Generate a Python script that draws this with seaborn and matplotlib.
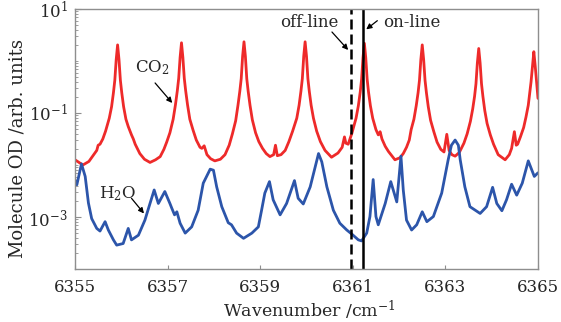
import numpy as np
import pandas as pd
import matplotlib
matplotlib.use("Agg")
import matplotlib.pyplot as plt
import matplotlib.ticker as mticker
import seaborn as sns

# Simulated molecular optical depth around 6361 cm^-1
co2_wn = [6355.00, 6355.17, 6355.30, 6355.43, 6355.47, 6355.50, 6355.54, 6355.60, 6355.66, 6355.74,
          6355.79, 6355.83, 6355.86, 6355.89, 6355.92, 6355.95, 6355.98, 6356.01, 6356.05, 6356.10,
          6356.15, 6356.22, 6356.26, 6356.30, 6356.40, 6356.50, 6356.62, 6356.74,
          6356.84, 6356.92, 6356.98, 6357.05, 6357.12, 6357.17, 6357.21, 6357.24, 6357.27, 6357.30,
          6357.33, 6357.36, 6357.39, 6357.43, 6357.48, 6357.55, 6357.62, 6357.70, 6357.74, 6357.79,
          6357.85, 6357.93, 6358.02, 6358.14, 6358.24,
          6358.33, 6358.40, 6358.47, 6358.52, 6358.56, 6358.59, 6358.62, 6358.65, 6358.68, 6358.71,
          6358.74, 6358.78, 6358.83, 6358.90, 6358.97, 6359.05, 6359.13, 6359.21, 6359.29, 6359.33,
          6359.37,
          6359.45, 6359.54, 6359.62, 6359.70, 6359.79, 6359.84, 6359.88, 6359.91, 6359.94, 6359.97,
          6360.00, 6360.03, 6360.06, 6360.10, 6360.15, 6360.22, 6360.30, 6360.40, 6360.54, 6360.68,
          6360.77, 6360.82, 6360.85, 6360.90,
          6360.98, 6361.07, 6361.12, 6361.16, 6361.19, 6361.22, 6361.25, 6361.28, 6361.31, 6361.34,
          6361.38, 6361.43, 6361.50, 6361.55, 6361.59, 6361.63, 6361.70, 6361.77, 6361.91, 6362.02,
          6362.09, 6362.16, 6362.22, 6362.26, 6362.32, 6362.37, 6362.41, 6362.44, 6362.47, 6362.50,
          6362.53, 6362.56, 6362.59, 6362.63, 6362.68, 6362.75, 6362.82, 6362.90, 6362.97, 6363.03,
          6363.08, 6363.14, 6363.21,
          6363.30, 6363.40, 6363.47, 6363.54, 6363.59, 6363.63, 6363.66, 6363.69, 6363.72, 6363.75,
          6363.78, 6363.81, 6363.85, 6363.90, 6363.97, 6364.04, 6364.14, 6364.29, 6364.38, 6364.43,
          6364.49, 6364.53, 6364.56,
          6364.62, 6364.69, 6364.74, 6364.79, 6364.82, 6364.85, 6364.88, 6364.91, 6364.94, 6364.97,
          6365.00]
co2_od = [0.0126, 0.0100, 0.0117, 0.0170, 0.0191, 0.0240, 0.0251, 0.0316, 0.0447, 0.0794,
          0.132, 0.245, 0.427, 1.07, 2.04, 1.07, 0.427, 0.245, 0.132, 0.0759,
          0.0550, 0.0380, 0.0316, 0.0251, 0.0166, 0.0129, 0.0112, 0.0126,
          0.0145, 0.0200, 0.0275, 0.0417, 0.0759, 0.145, 0.269, 0.468, 1.17, 2.24,
          1.17, 0.468, 0.269, 0.145, 0.0759, 0.0468, 0.0302, 0.0219, 0.0209, 0.0234,
          0.0158, 0.0132, 0.0120, 0.0129, 0.0158,
          0.0240, 0.0398, 0.0708, 0.141, 0.263, 0.457, 1.23, 2.34, 1.23, 0.457,
          0.263, 0.141, 0.0741, 0.0417, 0.0282, 0.0209, 0.0166, 0.0145, 0.0158, 0.0240,
          0.0151,
          0.0158, 0.0191, 0.0282, 0.0447, 0.0794, 0.141, 0.263, 0.457, 1.23, 2.34,
          1.23, 0.457, 0.263, 0.141, 0.0794, 0.0447, 0.0282, 0.0191, 0.0141, 0.0170,
          0.0219, 0.0347, 0.0263, 0.0251,
          0.0407, 0.0794, 0.138, 0.251, 0.447, 1.15, 2.19, 1.15, 0.447, 0.251,
          0.138, 0.0794, 0.0479, 0.0380, 0.0437, 0.0316, 0.0229, 0.0182, 0.0126, 0.0138,
          0.0166, 0.0219, 0.0302, 0.0479, 0.0759, 0.138, 0.245, 0.427, 1.07, 2.04,
          1.07, 0.427, 0.245, 0.132, 0.0724, 0.0437, 0.0275, 0.0200, 0.0178, 0.0389,
          0.0191, 0.0158, 0.0148,
          0.0174, 0.0263, 0.0398, 0.0692, 0.120, 0.209, 0.363, 0.912, 1.74, 0.912,
          0.363, 0.209, 0.112, 0.0631, 0.0380, 0.0251, 0.0158, 0.0126, 0.0158, 0.0209,
          0.0437, 0.0240, 0.0251,
          0.0347, 0.0525, 0.0832, 0.141, 0.240, 0.398, 0.794, 1.51, 0.794, 0.380,
          0.191]

h2o_wn = [6355.00, 6355.04, 6355.14, 6355.22, 6355.29, 6355.36, 6355.47, 6355.54, 6355.65, 6355.72,
          6355.83, 6355.90, 6356.04, 6356.15, 6356.22, 6356.37, 6356.51, 6356.62, 6356.71, 6356.80,
          6356.94, 6357.05, 6357.09, 6357.15, 6357.20, 6357.27, 6357.38, 6357.52, 6357.66, 6357.77,
          6357.92, 6357.99, 6358.06, 6358.17, 6358.31, 6358.38, 6358.49, 6358.64, 6358.82, 6358.96,
          6359.03, 6359.10, 6359.20, 6359.28, 6359.43, 6359.57, 6359.74, 6359.82, 6359.93, 6360.08,
          6360.26, 6360.33, 6360.44, 6360.58, 6360.72, 6360.87, 6360.98, 6361.12, 6361.19, 6361.30,
          6361.37, 6361.44, 6361.50, 6361.55, 6361.70, 6361.82, 6361.95, 6362.04, 6362.09, 6362.16,
          6362.27, 6362.38, 6362.50, 6362.60, 6362.74, 6362.92, 6363.06, 6363.13, 6363.21, 6363.28,
          6363.32, 6363.42, 6363.53, 6363.75, 6363.89, 6364.02, 6364.11, 6364.22, 6364.32, 6364.43,
          6364.54, 6364.66, 6364.79, 6364.92, 6365.00]
h2o_od = [0.00513, 0.00417, 0.0105, 0.00603, 0.00186, 0.000933, 0.000603, 0.000537, 0.000813, 0.000562,
          0.000363, 0.000288, 0.000309, 0.000603, 0.000363, 0.000447, 0.000871, 0.00182, 0.00331, 0.00182,
          0.00309, 0.00182, 0.00148, 0.00110, 0.00126, 0.000759, 0.000490, 0.000646, 0.00135, 0.00447,
          0.00832, 0.00794, 0.00380, 0.00158, 0.000776, 0.000708, 0.000490, 0.000389, 0.000490, 0.000646,
          0.00135, 0.00288, 0.00479, 0.00214, 0.00110, 0.00182, 0.00501, 0.00229, 0.00178, 0.00380,
          0.0166, 0.0115, 0.00380, 0.00135, 0.000759, 0.000562, 0.000468, 0.000363, 0.000347, 0.000490,
          0.00102, 0.00525, 0.00102, 0.000708, 0.00182, 0.00479, 0.00195, 0.0148, 0.00331, 0.000871,
          0.000562, 0.000708, 0.00126, 0.000813, 0.00102, 0.00288, 0.0126, 0.0240, 0.0302, 0.0240,
          0.0126, 0.00380, 0.00158, 0.00117, 0.00158, 0.00372, 0.00182, 0.00132, 0.00214, 0.00427,
          0.00263, 0.00447, 0.0120, 0.00603, 0.00708]

offline_wn = 6360.96
online_wn = 6361.22
x_ticks = [6355, 6357, 6359, 6361, 6363, 6365]
y_ticks = [1e-3, 1e-1, 1e1]

red = "#ee2a2a"
blue = "#2c55aa"
frame = "#8e8e8e"

sns.set_style("ticks")
plt.rcParams["font.family"] = ["DejaVu Serif"]
plt.rcParams["mathtext.fontset"] = "dejavuserif"
fs = 12

fig = plt.figure(figsize=(5.61, 3.22), dpi=100)
ax = fig.add_axes([75 / 561, 1 - 269 / 322, 463 / 561, 260 / 322])

df = pd.concat([
    pd.DataFrame({"wn": co2_wn, "od": co2_od, "gas": "CO2"}),
    pd.DataFrame({"wn": h2o_wn, "od": h2o_od, "gas": "H2O"}),
], ignore_index=True)
sns.lineplot(data=df, x="wn", y="od", hue="gas", palette={"CO2": red, "H2O": blue},
             estimator=None, sort=False, linewidth=2.0, legend=False, ax=ax)
for ln in ax.get_lines():
    ln.set_solid_joinstyle("round")

ax.set_yscale("log")
ax.set_xlim(6355, 6365)
ax.set_ylim(1e-4, 10)

ax.axvline(offline_wn, color="k", lw=1.8, ls=(0, (4, 2)))
ax.axvline(online_wn, color="k", lw=1.8)

ax.set_xticks(x_ticks)
ax.xaxis.set_major_formatter(mticker.FormatStrFormatter("%d"))
ax.yaxis.set_major_locator(mticker.FixedLocator(y_ticks))
ax.yaxis.set_minor_locator(mticker.LogLocator(base=10, subs=np.arange(1, 10), numticks=30))
ax.yaxis.set_major_formatter(mticker.FuncFormatter(lambda v, p: r"$10^{%d}$" % round(np.log10(v))))
ax.yaxis.set_minor_formatter(mticker.NullFormatter())
ax.tick_params(axis="x", direction="in", length=3, width=0.8, color=frame, pad=7,
               labelsize=fs, top=False)
ax.tick_params(axis="y", which="major", direction="in", length=4, width=0.8, color=frame,
               pad=5, labelsize=fs, right=False)
ax.tick_params(axis="y", which="minor", direction="in", length=2, width=0.6, color=frame, right=False)
ax.set_xlabel("")
ax.set_ylabel("")
for sp in ax.spines.values():
    sp.set_color(frame)
    sp.set_linewidth(1.0)

fig.text(309 / 561, 1 - 317 / 322, r"Wavenumber /cm$^{-1}$", ha="center", va="baseline", fontsize=12.5)
fig.text(18 / 561, 1 - 148 / 322, "Molecule OD /arb. units", rotation=90,
         ha="center", va="center", fontsize=13)

arrow = dict(arrowstyle="-|>", color="k", lw=0.9, mutation_scale=8, shrinkA=0, shrinkB=0)
ax.text(6356.68, 0.733, r"CO$_2$", ha="center", va="center", fontsize=fs)
ax.annotate("", xy=(6357.10, 0.156), xytext=(6356.73, 0.378), arrowprops=arrow)
ax.text(6355.93, 0.00276, r"H$_2$O", ha="center", va="center", fontsize=fs)
ax.annotate("", xy=(6356.49, 0.00117), xytext=(6356.22, 0.00229), arrowprops=arrow)
ax.text(6360.05, 5.62, "off-line", ha="center", va="center", fontsize=fs)
ax.annotate("", xy=(6360.90, 1.63), xytext=(6360.55, 3.61), arrowprops=arrow)
ax.text(6362.27, 5.62, "on-line", ha="center", va="center", fontsize=fs)
ax.annotate("", xy=(6361.29, 4.06), xytext=(6361.53, 5.96), arrowprops=arrow)

fig.savefig("out.png", dpi=100)
